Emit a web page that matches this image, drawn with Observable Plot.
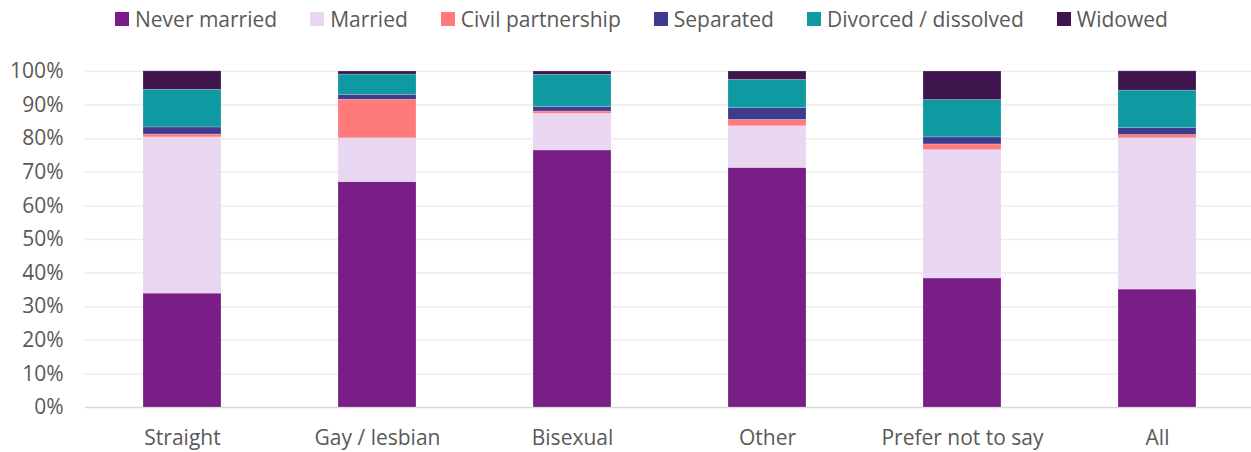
<!DOCTYPE html>
<html>
<head>
<meta charset="utf-8">
<script src="https://cdn.jsdelivr.net/npm/d3@7"></script>
<script src="https://cdn.jsdelivr.net/npm/@observablehq/plot@0.6"></script>
<style>
  body { margin: 0; background: #fff; font-family: "Open Sans", Lato, sans-serif; }
  #legend { height: 38px; display: flex; align-items: center; justify-content: flex-start; gap: 33px; font-size: 21px; color: #595959; padding-left: 115px; box-sizing: border-box; white-space: nowrap; }
  #legend .item { display: flex; align-items: center; gap: 6px; }
  #legend .sw { width: 14px; height: 14px; display: inline-block; }
</style>
</head>
<body>
<div id="legend"></div>
<div id="chart"></div>
<script>
const categories = ["Straight", "Gay / lesbian", "Bisexual", "Other", "Prefer not to say", "All"];
const statuses = ["Never married", "Married", "Civil partnership", "Separated", "Divorced / dissolved", "Widowed"];
const colors = ["#7a1e87", "#e9d6f1", "#ff7b7b", "#3e3a8c", "#0f9aa2", "#3e164d"];

const neverMarried = [33.9, 67.1, 76.5, 71.3, 38.4, 35.1];
const married      = [46.5, 13.0, 10.9, 12.4, 38.2, 45.0];
const civil        = [0.85, 11.5, 0.7, 1.9, 1.7, 1.0];
const separated    = [2.1, 1.45, 1.3, 3.5, 2.1, 2.05];
const divorced     = [11.2, 6.05, 9.6, 8.4, 11.1, 11.15];
const widowed      = [5.5, 0.9, 1.0, 2.5, 8.5, 5.75];

const yTicks = [0, 0.1, 0.2, 0.3, 0.4, 0.5, 0.6, 0.7, 0.8, 0.9, 1];

const series = [neverMarried, married, civil, separated, divorced, widowed];
const table = [];
categories.forEach((c, i) => {
  statuses.forEach((s, j) => table.push({category: c, status: s, value: series[j][i] / 100}));
});

const legend = document.getElementById("legend");
statuses.forEach((s, j) => {
  const it = document.createElement("div");
  it.className = "item";
  it.innerHTML = `<span class="sw" style="background:${colors[j]}"></span><span>${s}</span>`;
  legend.appendChild(it);
});

const chart = Plot.plot({
  width: 1251,
  height: 414,
  marginTop: 33,
  marginBottom: 45,
  marginLeft: 85,
  marginRight: 0,
  style: { fontFamily: "'Open Sans', Lato, sans-serif", fontSize: "21px", color: "#595959", background: "#fff" },
  x: { domain: categories, range: [84.5, 1254.5], paddingInner: 0.6, paddingOuter: 0.3, label: null, tickSize: 0, tickPadding: 23 },
  y: { domain: [0, 1], ticks: yTicks, tickFormat: d3.format(".0%"), label: null, tickSize: 0, tickPadding: 22 },
  color: { domain: statuses, range: colors },
  marks: [
    Plot.ruleY(yTicks.slice(1), { stroke: "#ececec", strokeWidth: 1.5 }),
    Plot.ruleY([0], { stroke: "#d9d9d9", strokeWidth: 1.5 }),
    Plot.barY(table, { x: "category", y: "value", fill: "status", stroke: "#ffffff", strokeOpacity: 0.25, strokeWidth: 0.75 })
  ]
});
document.getElementById("chart").appendChild(chart);
</script>
</body>
</html>
